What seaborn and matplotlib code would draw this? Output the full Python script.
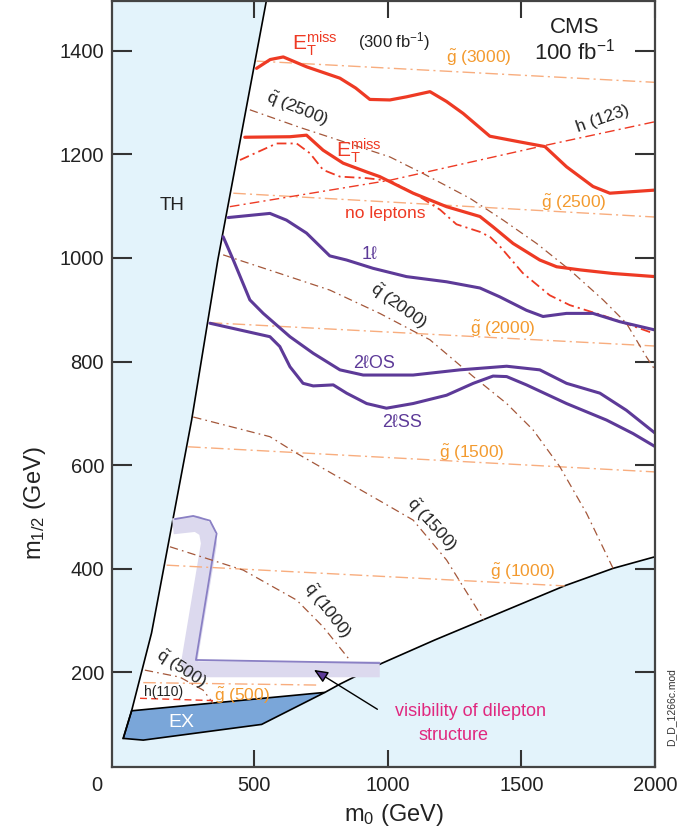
import matplotlib
matplotlib.use("Agg")
import matplotlib.pyplot as plt
import matplotlib.transforms as mtransforms
import seaborn as sns

# ---------------- data (GeV) ----------------
# theoretically excluded (TH) boundary
th_m0 = [547, 364, 266, 116, 41.5, 10]
th_m12 = [1500, 996, 687, 276, 126, 72.6]
# experimentally excluded (EX) region
ex_m0 = [41.5, 764.7, 528, 85, 10]
ex_m12 = [125.9, 161.4, 99.6, 69.3, 72.6]
# lower-right boundary (no EWSB)
bnd_m0 = [764.7, 821, 977, 1176, 1662, 1843, 2000]
bnd_m12 = [161.4, 177.4, 217.4, 262.6, 367.2, 400.8, 423.2]

# E_T^miss reach, 300 fb-1
et300_m0 = [509, 560, 609, 696, 821, 880, 933, 1008, 1070, 1158, 1220, 1282, 1382, 1494, 1588, 1669, 1768, 1831, 2000]
et300_m12 = [1366, 1383, 1388, 1369, 1347, 1328, 1306, 1305, 1311, 1321, 1302, 1279, 1235, 1224, 1215, 1176, 1138, 1125, 1131]
# E_T^miss reach, 100 fb-1
et100_m0 = [465, 634, 696, 758, 833, 921, 970, 1095, 1220, 1345, 1394, 1469, 1569, 1632, 1719, 1843, 2000]
et100_m12 = [1233, 1234, 1237, 1208, 1183, 1166, 1157, 1125, 1099, 1080, 1060, 1028, 996, 983, 977, 970, 964]
# E_T^miss, no leptons (100 fb-1)
nolep_m0 = [447, 584, 659, 709, 758, 821, 921, 1008, 1108, 1196, 1257, 1347, 1384, 1422, 1505, 1606, 1681, 1805, 1992]
nolep_m12 = [1189, 1221, 1221, 1202, 1170, 1157, 1154, 1149, 1122, 1093, 1065, 1050, 1040, 1021, 971, 928, 909, 889, 855]
# 1 lepton
l1_m0 = [403, 559, 621, 696, 783, 846, 945, 1070, 1220, 1345, 1419, 1519, 1581, 1669, 1768, 1868, 2000]
l1_m12 = [1078, 1086, 1073, 1048, 1004, 996, 980, 964, 954, 942, 925, 899, 887, 893, 893, 877, 861]
# 2 leptons opposite sign
os_m0 = [384, 422, 484, 534, 634, 721, 821, 908, 1095, 1270, 1445, 1569, 1669, 1794, 1893, 2000]
os_m12 = [1041, 996, 919, 893, 848, 816, 784, 774, 774, 784, 791, 784, 758, 739, 706, 662]
# 2 leptons same sign
ss_m0 = [334.5, 559, 596, 634, 683, 721, 796, 846, 921, 995, 1095, 1220, 1320, 1394, 1445, 1519, 1669, 1819, 1918, 2000]
ss_m12 = [874, 848, 829, 790, 758, 753, 755, 739, 719, 710, 719, 735, 758, 772, 771, 755, 719, 687, 661, 636]

# Higgs mass contours
h123_m0 = [409, 1008, 1569, 2000]
h123_m12 = [1099, 1150, 1215, 1263]
h110_m0 = [73, 346]
h110_m12 = [150, 145.6]

# squark iso-mass contours
sq_names = ["2500", "2000", "1500", "1000", "500"]
sq_m0 = [
    [484, 671, 1008, 1132, 1308, 1432, 1557, 1681, 1806, 1893, 1968, 2000],
    [384, 596, 783, 970, 1158, 1320, 1445, 1544, 1644, 1744, 1843],
    [272, 559, 659, 1008, 1095, 1220, 1360],
    [185, 459, 659, 758, 858],
    [91, 222, 309, 347],
]
sq_m12 = [
    [1286, 1252, 1195, 1163, 1115, 1073, 1028, 977, 919, 874, 809, 784],
    [1006, 970, 938, 893, 842, 771, 719, 668, 597, 507, 401],
    [693, 655, 623, 520, 494, 417, 301],
    [442.5, 397.5, 339.6, 288, 223.7],
    [204.4, 190.9, 165.8, 140.2],
]
# gluino iso-mass contours
gl_names = ["3000", "2500", "2000", "1500", "1000", "500"]
gl_m0 = [[509, 2000], [422, 2000], [334, 2000], [253, 2000], [172.5, 1662], [85, 746]]
gl_m12 = [[1380, 1339], [1125, 1079], [875, 830], [635.5, 587], [407, 367], [180.3, 175.5]]

# dilepton-structure visibility band
band_m0 = [196, 285, 322, 331, 256, 266, 970]
band_m12 = [482, 487, 475, 449, 217, 206, 206]
bandedge_m0 = [203.5, 272, 334.5, 359.5, 282, 970]
bandedge_m12 = [496, 502, 493, 468, 224, 218]

x_ticks = [0, 500, 1000, 1500, 2000]
y_ticks = [200, 400, 600, 800, 1000, 1200, 1400]

# ---------------- style ----------------
sns.set_theme(style="white")
plt.rcParams["font.family"] = ["Liberation Sans", "DejaVu Sans"]
plt.rcParams["mathtext.fontset"] = "custom"
plt.rcParams["mathtext.rm"] = "Liberation Sans"
plt.rcParams["mathtext.it"] = "Liberation Sans:italic"
plt.rcParams["mathtext.bf"] = "Liberation Sans:bold"
plt.rcParams["mathtext.sf"] = "Liberation Sans"
plt.rcParams["lines.scale_dashes"] = False

RED = "#ee3a24"
PURPLE = "#5d3a98"
SQ = "#a4573a"
GL = "#f8ad7e"
GLTXT = "#f39a2e"
BG = "#e3f3fb"
EXC = "#7aa6d9"
DARK = "#222222"

fig = plt.figure(figsize=(6.8, 8.32), dpi=100)
ax = fig.add_axes([0.1643, 0.0785, 0.7989, 0.9203])
ax.set_facecolor(BG)
ax.set_xlim(-33, 2000)
ax.set_ylim(18, 1496)

# allowed (white) region
wx = th_m0[:5] + bnd_m0 + [2000]
wy = th_m12[:5] + bnd_m12 + [1500]
ax.fill(wx, wy, color="white", lw=0, zorder=0.5)
# EX region
ax.fill(ex_m0, ex_m12, facecolor=EXC, edgecolor="black", lw=1.2, zorder=0.8)
# boundaries
ax.plot(th_m0, th_m12, color="black", lw=1.2, zorder=1)
ax.plot(bnd_m0, bnd_m12, color="black", lw=1.2, zorder=1)

# dilepton band
ax.plot(band_m0, band_m12, color="#dcd9ee", lw=11.5, solid_joinstyle="round",
        solid_capstyle="butt", zorder=1.2)
ax.plot(bandedge_m0, bandedge_m12, color="#8a80c4", lw=1.3, solid_joinstyle="round", zorder=1.3)


def line(x, y, color, lw, ls="-", z=2):
    sns.lineplot(x=x, y=y, ax=ax, color=color, lw=lw, linestyle=ls,
                 sort=False, estimator=None, zorder=z, legend=False)


for xs, ys in zip(gl_m0, gl_m12):
    line(xs, ys, GL, 1.0, (0, (9, 3, 1.5, 3)))
for xs, ys in zip(sq_m0, sq_m12):
    line(xs, ys, SQ, 0.9, (0, (6, 3, 1.2, 3)))
line(h123_m0, h123_m12, RED, 1.0, (0, (7, 3, 1.5, 3)))
line(h110_m0, h110_m12, RED, 1.0, (0, (5, 3)))
line(nolep_m0, nolep_m12, RED, 1.3, (0, (7, 3, 1.5, 3)), z=2.5)

line(et300_m0, et300_m12, RED, 2.3, z=3)
line(et100_m0, et100_m12, RED, 2.3, z=3)
line(l1_m0, l1_m12, PURPLE, 2.2, z=3)
line(os_m0, os_m12, PURPLE, 2.2, z=3)
line(ss_m0, ss_m12, PURPLE, 2.2, z=3)

# ---------------- labels ----------------
def txt(x, y, s, color=DARK, size=12.5, rot=0, **kw):
    ax.text(x, y, s, color=color, fontsize=size, rotation=rot, ha=kw.pop("ha", "center"),
            va=kw.pop("va", "center"), rotation_mode="anchor", zorder=5, **kw)

gl_pos = [(1341, 1386), (1696, 1106), (1429, 863), (1316, 623), (1504, 394), (456, 155)]
for name, (x, y) in zip(gl_names, gl_pos):
    txt(x, y, r"$\tilde{\mathrm{g}}$ (" + name + ")", color=GLTXT)

sq_pos = [(662, 1287, -22), (1041, 907, -36), (1164, 486, -48), (774, 320, -52), (226, 208, -33)]
for name, (x, y, r) in zip(sq_names, sq_pos):
    txt(x, y, r"$\tilde{\mathrm{q}}$ (" + name + ")", rot=r)

txt(1806, 1268, "h (123)", rot=19)
txt(162, 162.5, "h(110)", size=10)

txt(729, 1413, r"$\mathrm{E_T^{miss}}$", color=RED, size=15)
txt(890, 1208, r"$\mathrm{E_T^{miss}}$", color=RED, size=15)
txt(1024, 1417, r"(300 fb$^{-1}$)", size=12)
txt(989, 1086, "no leptons", color=RED)
txt(1700, 1434, "CMS", size=16, va="baseline")
txt(1700, 1383, r"100 fb$^{-1}$", size=16, va="baseline")

txt(933, 1007, "1ℓ", color=PURPLE, size=13)
txt(948, 796, "2ℓOS", color=PURPLE, size=13)
txt(1055, 682, "2ℓSS", color=PURPLE, size=13)

txt(194, 1102, "TH", size=13.5)
txt(229, 103, "EX", color="white", size=14)

txt(1309, 124, "visibility of dilepton", color="#e0287f", size=13)
txt(1247, 79, "structure", color="#e0287f", size=13)
ax.annotate("", xy=(715, 207.7), xytext=(970, 126),
            arrowprops=dict(arrowstyle="-|>,head_length=0.7,head_width=0.3",
                            fc=PURPLE, ec="black", lw=1.0), zorder=5)

fig.text(0.9878, 0.1496, "D_D_1266c.mod", rotation=90, fontsize=7.5,
         color="#333333", ha="center", va="center")

# ---------------- axes ----------------
for sp in ax.spines.values():
    sp.set_color("#444444")
    sp.set_linewidth(1.6)
    sp.set_zorder(6)

ax.set_xticks(x_ticks)
ax.set_xticklabels([str(v) for v in x_ticks])
ax.set_yticks(y_ticks)
ax.set_yticklabels([str(v) for v in y_ticks])
ax.tick_params(axis="x", direction="in", length=12, width=1.5, color="#333333",
               top=True, bottom=True, labelsize=14.5, pad=7, labelcolor=DARK)
ax.tick_params(axis="y", direction="in", length=14.5, width=1.5, color="#333333",
               left=True, right=True, labelsize=14.5, pad=5.5, labelcolor=DARK)

ax.set_xlabel(r"$\mathrm{m_0}$ (GeV)", fontsize=17, color=DARK)
ax.set_ylabel(r"$\mathrm{m_{1/2}}$ (GeV)", fontsize=17, color=DARK)
ax.xaxis.set_label_coords(0.52, -0.046)
ax.yaxis.set_label_coords(-0.117, 0.344)

# the "0" label sits left of the frame corner; hide its tick marks
t0 = ax.xaxis.get_major_ticks()[0]
t0.tick1line.set_visible(False)
t0.tick2line.set_visible(False)
off = mtransforms.ScaledTranslation(-0.236, 0, fig.dpi_scale_trans)
t0.label1.set_transform(t0.label1.get_transform() + off)

fig.savefig("out.png", dpi=100)
